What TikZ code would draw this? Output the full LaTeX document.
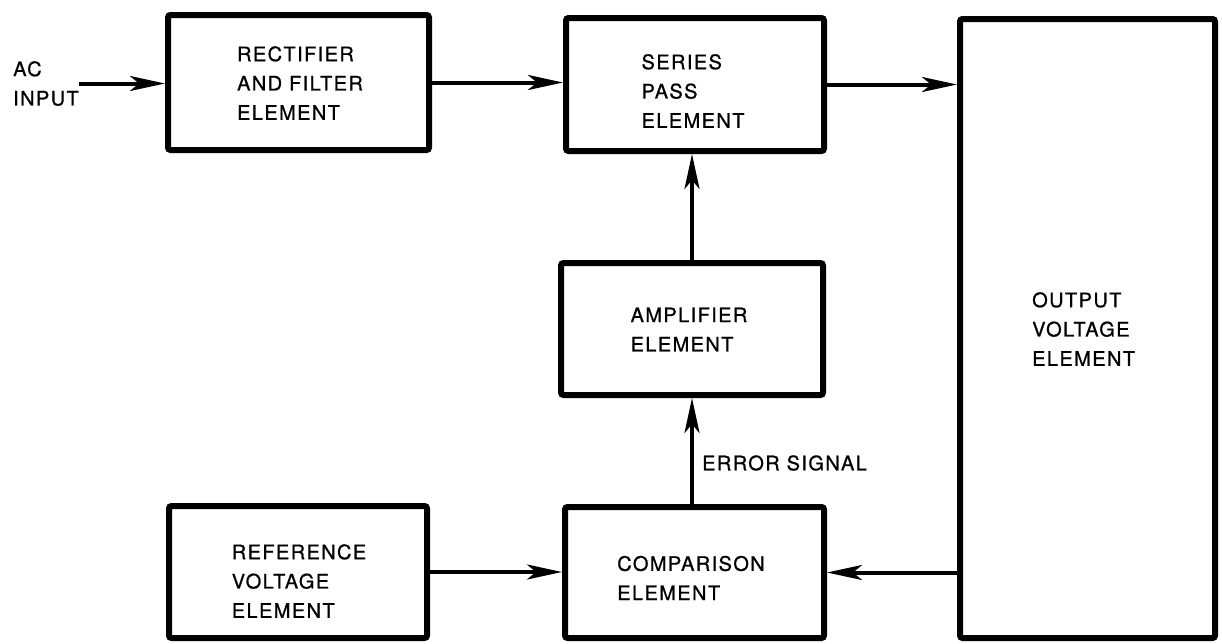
\documentclass[tikz,border=0pt]{standalone}
\usepackage{fontspec}
\setmainfont{TeX Gyre Heros}[LetterSpace=7,FakeBold=0.8]
\usetikzlibrary{arrows.meta}

\begin{document}
\begin{tikzpicture}[x=1pt,y=-1pt,font=\fontsize{20}{29.3}\selectfont,
  block/.style={draw,line width=6pt,rounded corners=2.5pt,inner sep=0pt},
  txt/.style={align=left,inner sep=0pt},
  arr/.style={line width=4pt,-{Stealth[length=35pt,width=15pt,inset=9pt]}}]
\useasboundingbox (0,0) rectangle (1222,643);
% boxes
\node[block,minimum width=261pt,minimum height=135pt] (rect) at (298.5,82.5) {};
\node[block,minimum width=258pt,minimum height=133pt] (ser) at (695,84.5) {};
\node[block,minimum width=262pt,minimum height=132pt] (amp) at (692,329) {};
\node[block,minimum width=258pt,minimum height=132pt] (ref) at (298,572) {};
\node[block,minimum width=259pt,minimum height=131pt] (comp) at (694.5,572.5) {};
\node[block,minimum width=255pt,minimum height=619pt] (out) at (1087.5,328.5) {};
% texts
\node[txt] (rectlbl) at (300,83) {RECTIFIER\\AND FILTER\\ELEMENT};
\node[txt] (serlbl) at (693,91) {SERIES\\PASS\\ELEMENT};
\node[txt] (amplbl) at (689,329.5) {AMPLIFIER\\ELEMENT};
\node[txt] (reflbl) at (299,581) {REFERENCE\\VOLTAGE\\ELEMENT};
\node[txt] (complbl) at (691,578) {COMPARISON\\ELEMENT};
\node[txt,anchor=west] (outlbl) at (1032,329) {OUTPUT\\VOLTAGE\\ELEMENT};
\node[txt,anchor=west] (ac) at (13,83.5) {AC\\INPUT};
\node[txt,anchor=west] (err) at (702,463) {ERROR SIGNAL};
% connectors
\draw[arr] (ac.east) -- (ac.east -| rect.west);
\draw[arr] (rect.east) -- (rect.east -| ser.west);
\draw[arr] (ser.east) -- (ser.east -| out.west);
\draw[arr] (amp.north) -- (amp.north |- ser.south);
\draw[arr] (amp.south |- comp.north) -- (amp.south);
\draw[arr] (ref.east) -- (ref.east -| comp.west);
\draw[arr] (out.west |- comp.east) -- (comp.east);
\end{tikzpicture}
\end{document}
